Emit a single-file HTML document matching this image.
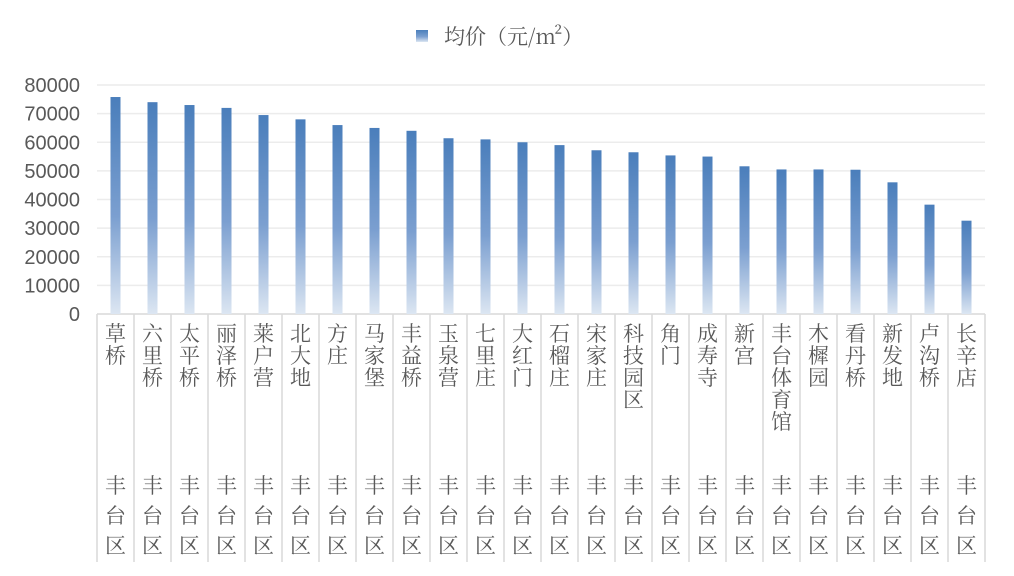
<!DOCTYPE html>
<html><head><meta charset="utf-8"><style>
body{margin:0;background:#fff;width:1014px;height:576px;overflow:hidden;font-family:"Liberation Sans","Noto Sans CJK SC",sans-serif}
svg{display:block}
</style></head><body>
<svg id="chart" width="1014" height="576" xmlns="http://www.w3.org/2000/svg">
<defs><linearGradient id="g" x1="0" y1="0" x2="0" y2="1"><stop offset="0" stop-color="#4a7ebb"/><stop offset="0.55" stop-color="#7b9fd0"/><stop offset="1" stop-color="#dce6f2"/></linearGradient></defs>
<g id="grid"></g><g id="bars"></g><g id="xl"></g><g id="yl"></g>
<g>
<rect x="416" y="30" width="12" height="12" fill="url(#g)"/>
<text x="444" y="44" font-size="21" fill="#595959" font-family="'Noto Serif CJK SC',serif">均价（元/m²）</text>
</g>
</svg>
<script>
const categories=["草桥","六里桥","太平桥","丽泽桥","莱户营","北大地","方庄","马家堡","丰益桥","玉泉营","七里庄","大红门","石榴庄","宋家庄","科技园区","角门","成寿寺","新宫","丰台体育馆","木樨园","看丹桥","新发地","卢沟桥","长辛店"];
const values=[75800,74000,73000,72000,69500,68000,66000,65000,64000,61400,61000,60000,59000,57200,56500,55400,55000,51600,50500,50500,50400,46000,38200,32600];
const ticks=[0,10000,20000,30000,40000,50000,60000,70000,80000];
const NS="http://www.w3.org/2000/svg";
const x0=97,x1=985,y0=314,y1=85,maxV=80000;
const bw=(x1-x0)/categories.length;
const y=v=>y0-(v/maxV)*(y0-y1);
function mk(t,a,p){const e=document.createElementNS(NS,t);for(const k in a)e.setAttribute(k,a[k]);p.appendChild(e);return e;}
const G=document.getElementById('grid'),B=document.getElementById('bars'),XL=document.getElementById('xl'),YL=document.getElementById('yl');
ticks.forEach(t=>{
  if(t>0){const l=mk('line',{x1:x0,x2:x1,y1:y(t),y2:y(t),stroke:'#ececec','stroke-width':1.5},G);
  
  }
  const tx=mk('text',{x:80,y:y(t)+7,'text-anchor':'end','font-size':20,fill:'#595959'},YL);
  tx.textContent=t;
  
  
});
mk('line',{x1:x0,x2:x1,y1:y0,y2:y0,stroke:'#d9d9d9','stroke-width':1.5},G);
for(let i=0;i<=categories.length;i++){
  mk('line',{x1:x0+i*bw,x2:x0+i*bw,y1:y0,y2:562,stroke:'#d9d9d9','stroke-width':1.5},G);
}
categories.forEach((c,i)=>{
  const cx=x0+(i+0.5)*bw;
  const r=mk('rect',{x:cx-5,y:y(values[i]),width:10,height:y0-y(values[i]),fill:'url(#g)'},B);
  
  
  const g=mk('g',{},XL);
  
  
  [...c].forEach((ch,j)=>{const t=mk('text',{x:cx,y:341+j*22,'text-anchor':'middle','font-size':21,fill:'#595959','font-family':"'Noto Serif CJK SC',serif"},g);t.textContent=ch;});
  [..."丰台区"].forEach((ch,j)=>{const t=mk('text',{x:cx,y:493+j*30,'text-anchor':'middle','font-size':21,fill:'#595959','font-family':"'Noto Serif CJK SC',serif"},g);t.textContent=ch;});
});
</script>
</body></html>
